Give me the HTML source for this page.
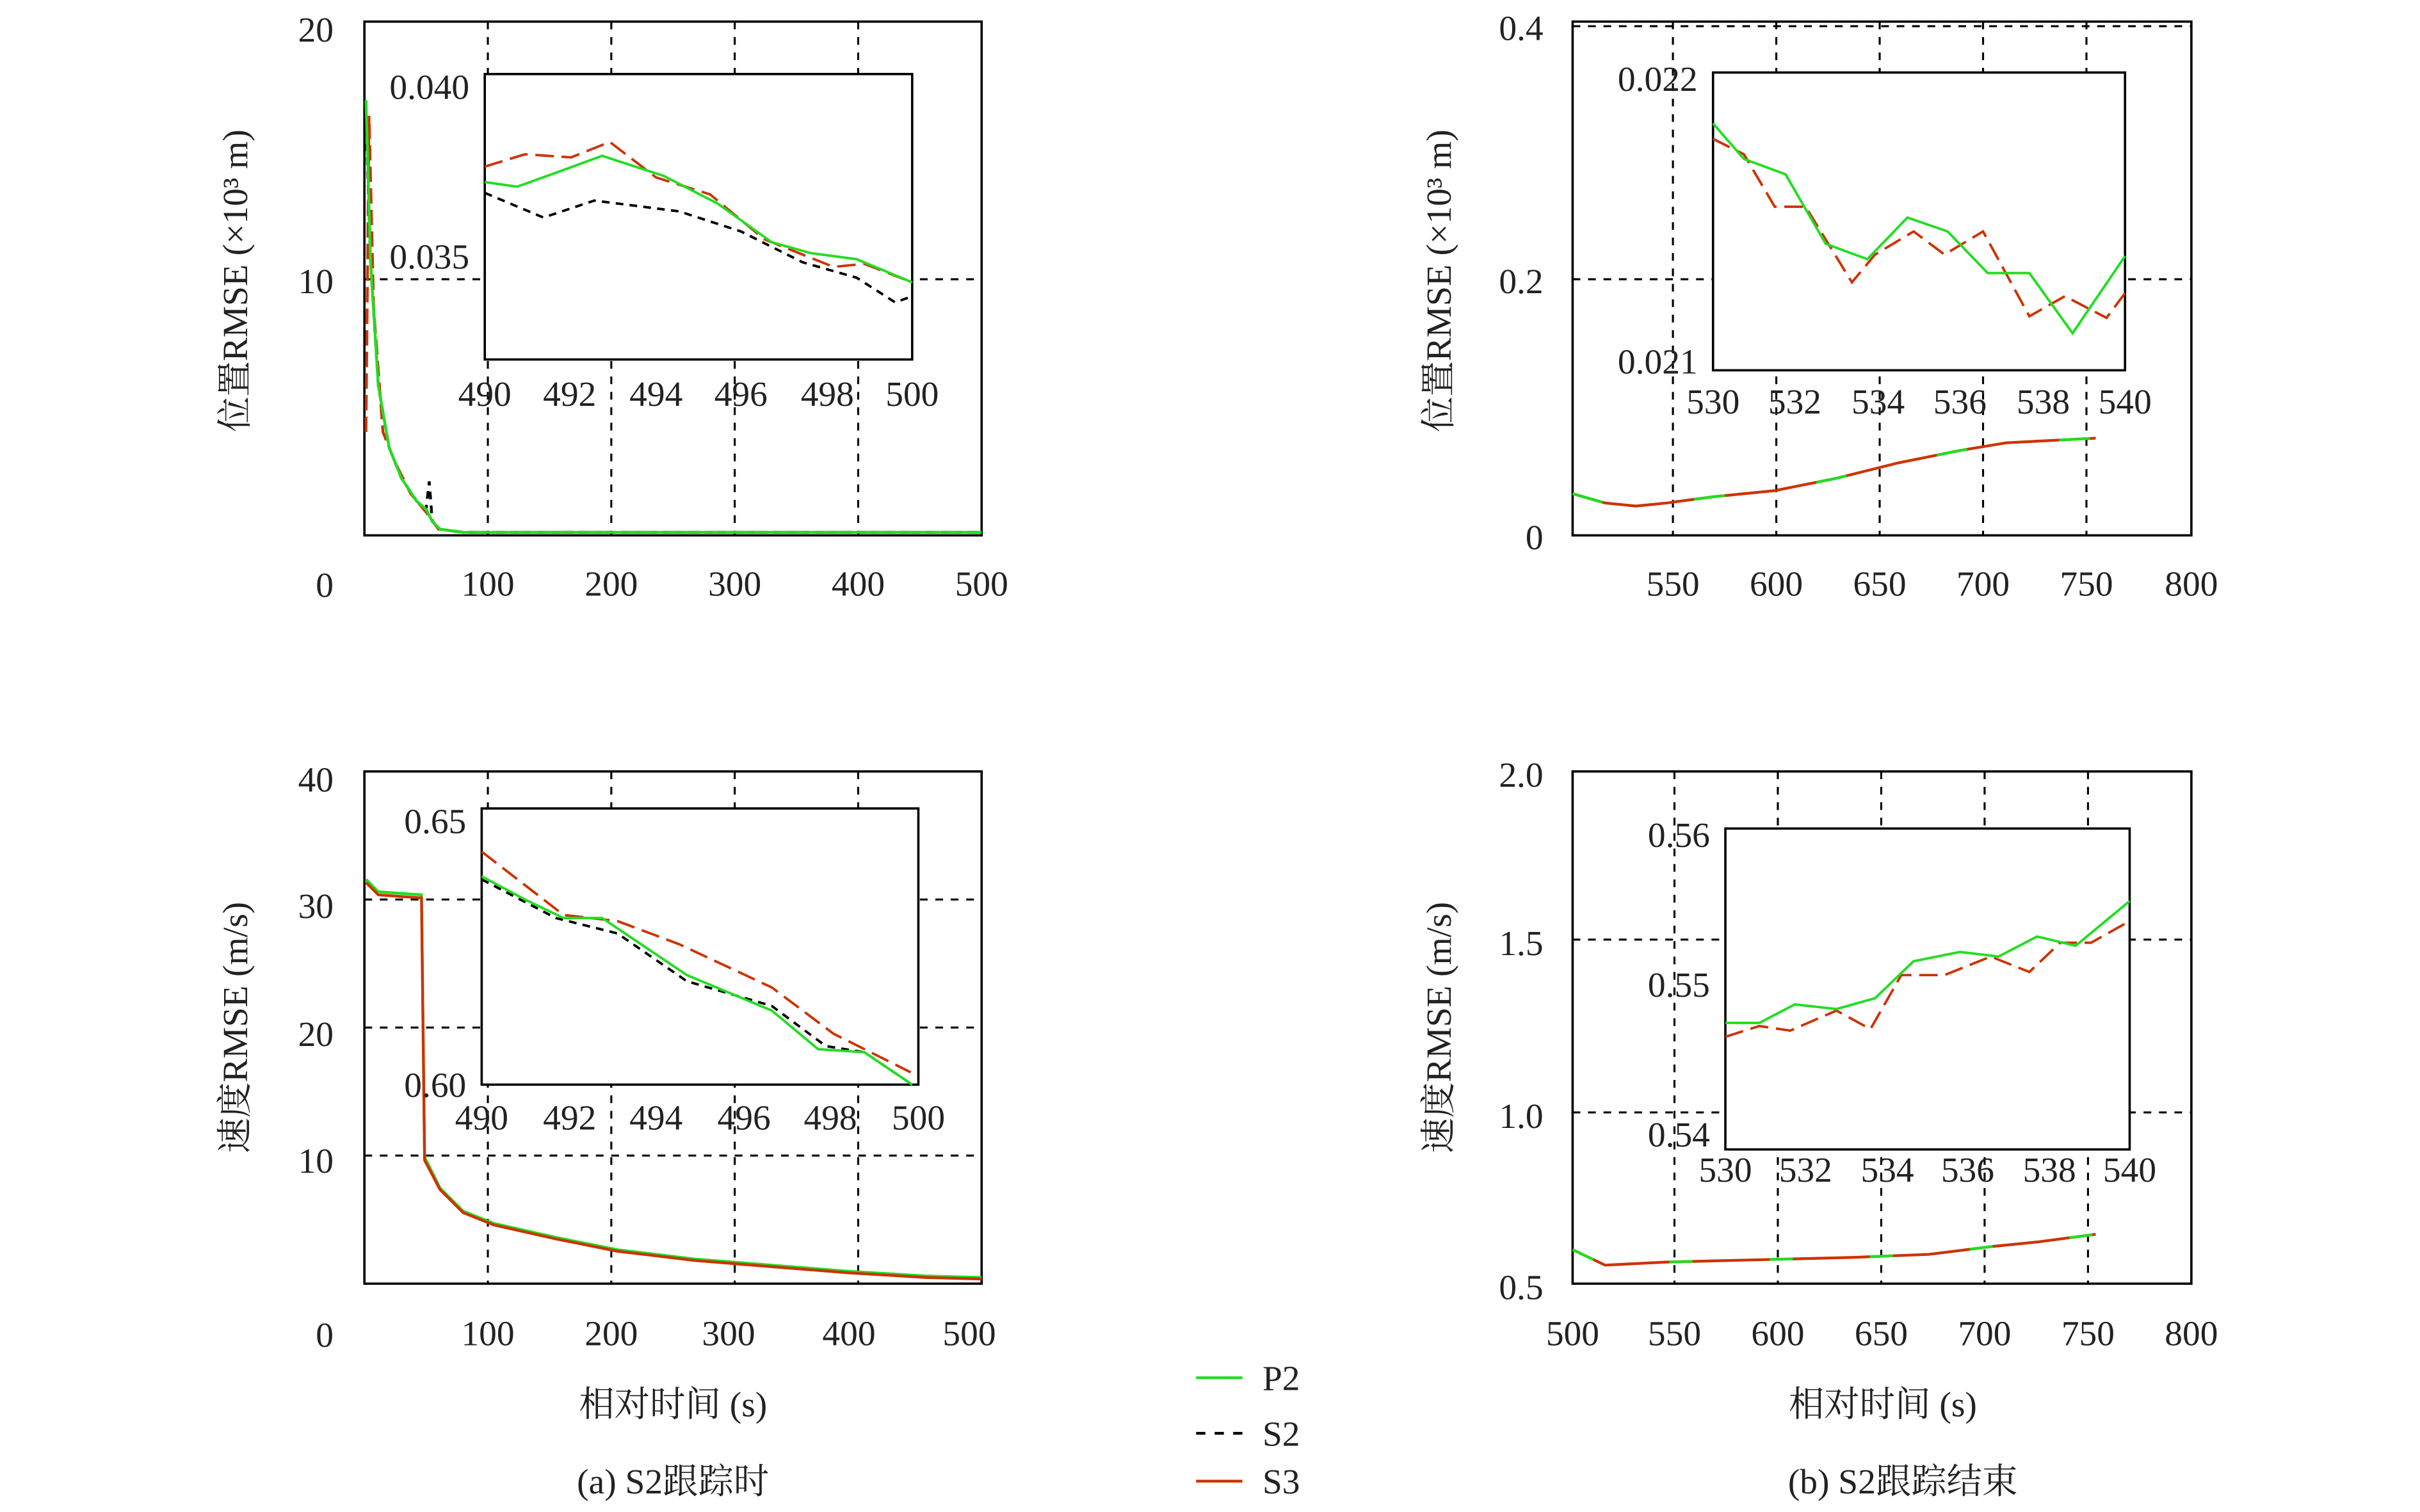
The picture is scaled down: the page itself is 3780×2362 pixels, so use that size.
<!DOCTYPE html>
<html><head><meta charset="utf-8"><style>html,body{margin:0;padding:0;background:#fff}svg{display:block}</style></head><body>
<svg width="3780" height="2362" viewBox="0 0 1568 980" xmlns="http://www.w3.org/2000/svg" font-family="Liberation Serif, Noto Serif CJK SC, serif" font-size="23" fill="#222">
<g stroke="#000" stroke-width="1.3" stroke-dasharray="5,5" fill="none">
<path d="M316 14V347M396 14V347M476 14V347M556 14V347M236 181H636"/>
<path d="M1084 14V347M1151 14V347M1218 14V347M1285 14V347M1352 14V347M1019 181H1420M1019 17H1420"/>
<path d="M316 500V832M396 500V832M476 500V832M556 500V832M236 583H636M236 666H636M236 749H636"/>
<path d="M1085 500V832M1152 500V832M1219 500V832M1286 500V832M1353 500V832M1019 609H1420M1019 721H1420"/>
</g>
<g stroke="#000" stroke-width="1.5" fill="none">
<rect x="236" y="14" width="400" height="333"/><rect x="1019" y="14" width="401" height="333"/>
<rect x="236" y="500" width="400" height="332"/><rect x="1019" y="500" width="401" height="332"/>
</g>
<!-- main series -->
<g fill="none" stroke-width="1.8">
<polyline stroke="#000" stroke-dasharray="5,4" points="237,75 240,170 245,250 252,290 260,310 270,325 276,330 278,312 280,338 285,343 300,345 636,345"/>
<polyline stroke="#cc3300" stroke-dasharray="10,4" points="237,280 239,75 242,200 248,280 256,300 266,320 276,332 284,343 300,345 636,345"/>
<polyline stroke="#22dd22" points="237,65 240,170 245,250 252,290 260,310 270,325 276,330 280,338 285,343 300,345 636,345"/>
<polyline stroke="#cc3300" points="1019,320 1040,326 1060,328 1080,326 1110,322 1150,318 1190,310 1230,300 1270,292 1300,287 1358,284"/>
<polyline stroke="#22dd22" stroke-dasharray="20,60" points="1019,320 1040,326 1060,328 1080,326 1110,322 1150,318 1190,310 1230,300 1270,292 1300,287 1358,284"/>
<polyline stroke="#22dd22" points="237,570 245,578 273,580 275,750 285,770 300,785 320,793 360,802 400,810 450,816 500,820 550,824 600,827 636,828"/>
<polyline stroke="#cc3300" points="237,572 245,580 273,582 275,752 285,771 300,786 320,794 360,803 400,811 450,817 500,821 550,825 600,828 636,829"/>
<polyline stroke="#cc3300" points="1019,810 1040,820 1080,818 1120,817 1200,815 1250,813 1290,808 1320,805 1358,800"/>
<polyline stroke="#22dd22" stroke-dasharray="15,50" points="1019,810 1040,820 1080,818 1120,817 1200,815 1250,813 1290,808 1320,805 1358,800"/>
</g>
<!-- insets -->
<g fill="#fff" stroke="#000" stroke-width="1.5">
<rect x="314" y="48" width="277" height="185"/><rect x="1110" y="47" width="267" height="193"/>
<rect x="312" y="524" width="283" height="179"/><rect x="1118" y="537" width="262" height="208"/>
</g>
<g fill="none" stroke-width="1.6">
<polyline stroke="#000" stroke-dasharray="5,4" points="314,125 352,141 385,130 440,137 480,150 520,170 555,180 580,196 591,192"/>
<polyline stroke="#cc3300" stroke-dasharray="12,5" points="314,108 340,100 370,102 395,92 425,115 460,126 495,155 540,173 560,171 591,183"/>
<polyline stroke="#22dd22" points="314,118 335,121 360,112 390,101 430,114 465,132 500,157 525,164 555,168 591,183"/>
<polyline stroke="#000" stroke-dasharray="5,4" points="312,570 360,595 400,605 445,636 500,652 535,678 560,682 591,703"/>
<polyline stroke="#cc3300" stroke-dasharray="12,5" points="312,552 365,593 400,597 440,612 500,640 540,670 590,695"/>
<polyline stroke="#22dd22" points="312,568 340,583 365,595 390,595 445,632 500,655 530,680 560,682 591,703"/>
<polyline stroke="#cc3300" stroke-dasharray="12,5" points="1110,90 1130,100 1150,134 1170,134 1200,183 1215,165 1240,150 1260,165 1285,150 1315,205 1338,192 1365,206 1377,190"/>
<polyline stroke="#22dd22" points="1110,80 1130,103 1157,113 1183,158 1210,168 1236,141 1262,150 1288,177 1315,177 1343,216 1377,166"/>
<polyline stroke="#cc3300" stroke-dasharray="12,5" points="1118,672 1140,665 1160,668 1190,655 1212,667 1232,632 1260,632 1290,620 1315,630 1335,611 1355,611 1380,597"/>
<polyline stroke="#22dd22" points="1118,663 1140,663 1163,651 1190,654 1215,647 1240,623 1270,617 1295,620 1320,607 1345,613 1380,584"/>
</g>
<!-- tick labels -->
<g text-anchor="end">
<text x="216" y="27">20</text><text x="216" y="190">10</text><text x="216" y="387">0</text>
<text x="216" y="513">40</text><text x="216" y="595">30</text><text x="216" y="678">20</text><text x="216" y="760">10</text><text x="216" y="873">0</text>
<text x="1000" y="26">0.4</text><text x="1000" y="190">0.2</text><text x="1000" y="356">0</text>
<text x="1000" y="510">2.0</text><text x="1000" y="619">1.5</text><text x="1000" y="731">1.0</text><text x="1000" y="842">0.5</text>
<text x="304" y="64">0.040</text><text x="304" y="174">0.035</text>
<text x="1100" y="59">0.022</text><text x="1100" y="242">0.021</text>
<text x="302" y="540">0.65</text><text x="302" y="711">0.60</text>
<text x="1108" y="549">0.56</text><text x="1108" y="646">0.55</text><text x="1108" y="743">0.54</text>
</g>
<g text-anchor="middle">
<text x="316" y="386">100</text><text x="396" y="386">200</text><text x="476" y="386">300</text><text x="556" y="386">400</text><text x="636" y="386">500</text>
<text x="1084" y="386">550</text><text x="1151" y="386">600</text><text x="1218" y="386">650</text><text x="1285" y="386">700</text><text x="1352" y="386">750</text><text x="1420" y="386">800</text>
<text x="316" y="872">100</text><text x="396" y="872">200</text><text x="472" y="872">300</text><text x="550" y="872">400</text><text x="628" y="872">500</text>
<text x="1019" y="872">500</text><text x="1085" y="872">550</text><text x="1152" y="872">600</text><text x="1219" y="872">650</text><text x="1286" y="872">700</text><text x="1353" y="872">750</text><text x="1420" y="872">800</text>
<text x="314" y="263">490</text><text x="369" y="263">492</text><text x="425" y="263">494</text><text x="480" y="263">496</text><text x="536" y="263">498</text><text x="591" y="263">500</text>
<text x="1110" y="268">530</text><text x="1163" y="268">532</text><text x="1217" y="268">534</text><text x="1270" y="268">536</text><text x="1324" y="268">538</text><text x="1377" y="268">540</text>
<text x="312" y="732">490</text><text x="369" y="732">492</text><text x="425" y="732">494</text><text x="482" y="732">496</text><text x="538" y="732">498</text><text x="595" y="732">500</text>
<text x="1118" y="766">530</text><text x="1170" y="766">532</text><text x="1223" y="766">534</text><text x="1275" y="766">536</text><text x="1328" y="766">538</text><text x="1380" y="766">540</text>
<text x="436" y="918">相对时间 (s)</text><text x="1220" y="918">相对时间 (s)</text>
<text x="436" y="968">(a) S2跟踪时</text><text x="1233" y="968">(b) S2跟踪结束</text>
<text transform="translate(160,182) rotate(-90)">位置RMSE (×10³ m)</text>
<text transform="translate(160,666) rotate(-90)">速度RMSE (m/s)</text>
<text transform="translate(940,182) rotate(-90)">位置RMSE (×10³ m)</text>
<text transform="translate(940,666) rotate(-90)">速度RMSE (m/s)</text>
</g>
<!-- legend -->
<g fill="none" stroke-width="1.8">
<line x1="775" y1="893" x2="805" y2="893" stroke="#22dd22"/>
<line x1="775" y1="929" x2="805" y2="929" stroke="#000" stroke-dasharray="6,6"/>
<line x1="775" y1="960" x2="805" y2="960" stroke="#cc3300"/>
</g>
<text x="818" y="901">P2</text><text x="818" y="937">S2</text><text x="818" y="968">S3</text>
</svg>
</body></html>
